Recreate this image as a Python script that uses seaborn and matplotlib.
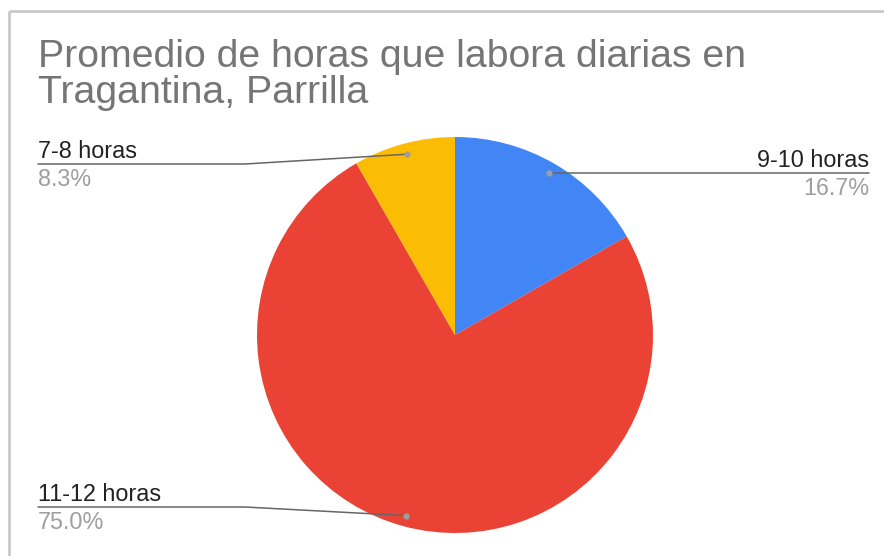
import numpy as np
import matplotlib
matplotlib.use("Agg")
import matplotlib.pyplot as plt
import seaborn as sns

# Data
categories = ["9-10 horas", "11-12 horas", "7-8 horas"]
shares = [16.7, 75.0, 8.3]
colors = ["#4285F4", "#EA4335", "#FBBC04"]
title_lines = ["Promedio de horas que labora diarias en", "Tragantina, Parrilla"]

sns.set_theme(style="white")
plt.rcParams["font.family"] = ["Liberation Sans", "DejaVu Sans"]

W, H = 884, 556
fig = plt.figure(figsize=(W / 100, H / 100), dpi=100)
ax = fig.add_axes([0, 0, 1, 1])

# Pie: y axis is inverted below, so counterclock=True draws clockwise on screen
cx, cy, R = 455, 335, 198
wedges, _ = ax.pie(shares, colors=colors, startangle=-90, counterclock=True,
                   center=(cx, cy), radius=R, frame=True,
                   wedgeprops=dict(linewidth=0))
ax.set_xlim(0, W)
ax.set_ylim(H, 0)
ax.set_aspect("equal")
ax.axis("off")

# Chart frame (top and left edges)
ax.plot([9, W], [11, 11], color="#C4C4C4", lw=1.8, solid_capstyle="butt")
ax.plot([9, 9], [11, H], color="#C4C4C4", lw=1.8, solid_capstyle="butt")

# Title, one line per baseline
for i, line in enumerate(title_lines):
    ax.text(38, 67 + 36 * i, line, fontsize=28.3, color="#757575",
            ha="left", va="baseline")

# Leader lines and labels
label_layout = {
    "9-10 horas": dict(elbow=None, line_y=None, end_x=869, ha="right"),
    "7-8 horas": dict(elbow=245, line_y=164, end_x=38, ha="left"),
    "11-12 horas": dict(elbow=245, line_y=507, end_x=38, ha="left"),
}
for w, cat, val in zip(wedges, categories, shares):
    mid = np.deg2rad((w.theta1 + w.theta2) / 2)
    px = cx + 0.945 * R * np.cos(mid)
    py = cy + 0.945 * R * np.sin(mid)
    lay = label_layout[cat]
    ly = py if lay["line_y"] is None else lay["line_y"]
    if lay["elbow"] is None:
        xs, ys = [px, lay["end_x"]], [py, ly]
    else:
        xs, ys = [px, lay["elbow"], lay["end_x"]], [py, ly, ly]
    ax.plot(xs, ys, color="#666666", lw=1.1, zorder=5)
    ax.plot(px, py, "o", color="#9E9E9E", ms=4.5, mec="none", zorder=6)
    ax.text(lay["end_x"], ly - 6, cat, fontsize=16.8, color="#222222",
            ha=lay["ha"], va="baseline")
    ax.text(lay["end_x"], ly + 22, f"{val:.1f}%", fontsize=16.8, color="#9E9E9E",
            ha=lay["ha"], va="baseline")

fig.savefig("out.png", dpi=100, facecolor="white")
